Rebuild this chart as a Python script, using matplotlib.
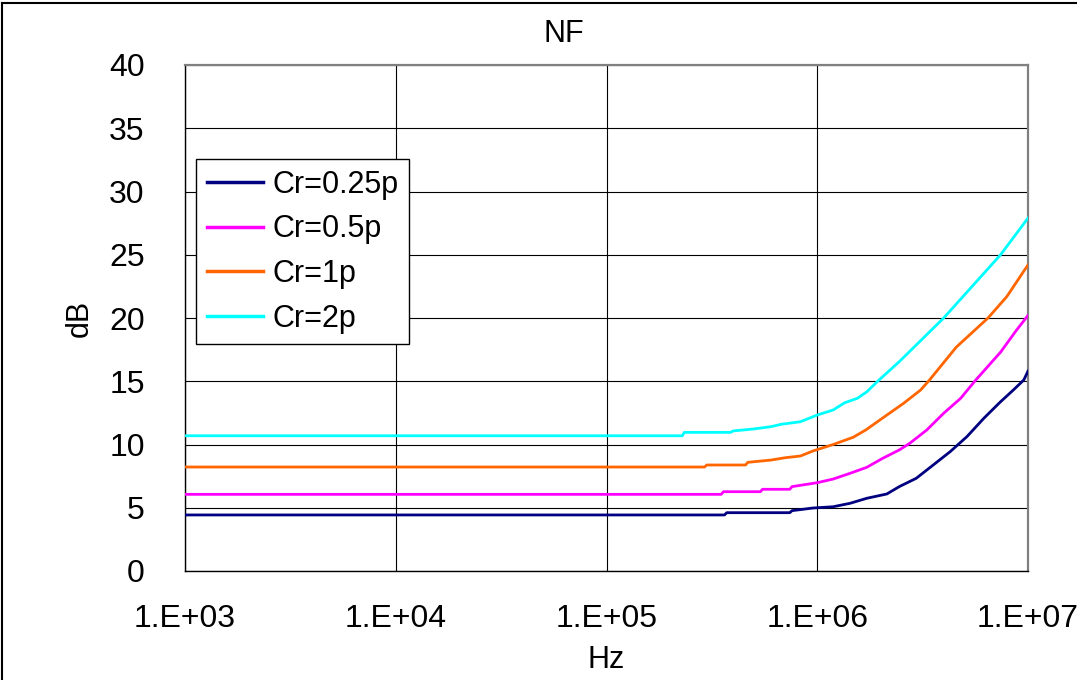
import matplotlib
matplotlib.use("Agg")
import matplotlib.pyplot as plt
from matplotlib.lines import Line2D
from matplotlib.ticker import FixedLocator, FixedFormatter, NullLocator

plt.rcParams["font.family"] = ["Liberation Sans", "DejaVu Sans"]

# Noise figure (dB) versus frequency (Hz) for four values of Cr
freq_025 = [1e3, 3.63e5, 3.72e5, 7.41e5, 7.59e5, 9.55e5, 1.19e6, 1.43e6, 1.72e6,
            2.14e6, 2.45e6, 2.95e6, 3.55e6, 4.27e6, 5.13e6, 6.17e6, 7.41e6,
            8.51e6, 9.55e6, 1e7]
nf_025 = [4.43, 4.43, 4.61, 4.61, 4.77, 4.98, 5.08, 5.35, 5.75,
          6.09, 6.67, 7.33, 8.38, 9.43, 10.62, 12.07, 13.38,
          14.3, 15.1, 15.8]

freq_05 = [1e3, 3.50e5, 3.59e5, 5.37e5, 5.50e5, 7.41e5, 7.59e5, 1.0e6, 1.19e6,
           1.43e6, 1.72e6, 2.04e6, 2.45e6, 2.75e6, 3.31e6, 3.98e6, 4.79e6,
           5.62e6, 7.41e6, 8.83e6, 1e7]
nf_05 = [6.06, 6.06, 6.27, 6.27, 6.46, 6.46, 6.67, 6.98, 7.27,
         7.72, 8.2, 8.9, 9.57, 10.1, 11.15, 12.47, 13.65,
         15.05, 17.3, 19.05, 20.2]

freq_1 = [1e3, 2.92e5, 2.99e5, 4.57e5, 4.68e5, 6.03e5, 7.08e5, 8.32e5, 9.55e5,
          1.19e6, 1.48e6, 1.70e6, 2.14e6, 2.57e6, 3.09e6, 3.39e6, 4.57e6,
          6.46e6, 7.94e6, 1e7]
nf_1 = [8.22, 8.22, 8.38, 8.38, 8.59, 8.77, 8.96, 9.09, 9.49,
        10.0, 10.57, 11.15, 12.33, 13.26, 14.3, 15.05, 17.7,
        20.0, 21.7, 24.2]

freq_2 = [1e3, 2.29e5, 2.34e5, 3.89e5, 3.98e5, 5.01e5, 6.03e5, 6.76e5, 8.32e5,
          1.0e6, 1.19e6, 1.35e6, 1.55e6, 1.72e6, 1.95e6, 2.45e6, 3.98e6,
          5.50e6, 7.41e6, 1e7]
nf_2 = [10.69, 10.69, 10.96, 10.96, 11.07, 11.23, 11.41, 11.6, 11.8,
        12.33, 12.73, 13.3, 13.65, 14.17, 15.05, 16.55, 20.0,
        22.6, 25.0, 27.9]

series_labels = ["Cr=0.25p", "Cr=0.5p", "Cr=1p", "Cr=2p"]
series_colors = ["#000080", "#FF00FF", "#FF6600", "#00FFFF"]

x_ticks = [1e3, 1e4, 1e5, 1e6, 1e7]
x_tick_labels = ["1.E+03", "1.E+04", "1.E+05", "1.E+06", "1.E+07"]
y_ticks = [0, 5, 10, 15, 20, 25, 30, 35, 40]

fig = plt.figure(figsize=(10.77, 6.8), dpi=100)
ax = fig.add_axes([185 / 1077, 1 - 571 / 680, (1028 - 185) / 1077, (571 - 65) / 680])

series = [(freq_025, nf_025), (freq_05, nf_05), (freq_1, nf_1), (freq_2, nf_2)]
for (f, v), lab, col in zip(series, series_labels, series_colors):
    ax.plot(f, v, color=col, lw=2.0, label=lab, zorder=3)

ax.set_xscale("log")
ax.set_xlim(1e3, 1e7)
ax.set_ylim(0, 40)
ax.xaxis.set_major_locator(FixedLocator(x_ticks))
ax.xaxis.set_major_formatter(FixedFormatter(x_tick_labels))
ax.xaxis.set_minor_locator(NullLocator())
ax.set_yticks(y_ticks)
ax.tick_params(axis="x", length=0, pad=24, labelsize=23)
ax.tick_params(axis="y", length=0, pad=29, labelsize=23)

ax.grid(True, which="major", color="black", lw=0.8, zorder=1)
ax.set_axisbelow(True)

for side in ("left", "bottom"):
    ax.spines[side].set_color("black")
    ax.spines[side].set_linewidth(1.0)
for side in ("top", "right"):
    ax.spines[side].set_color("#808080")
    ax.spines[side].set_linewidth(1.6)

ax.set_xlabel("Hz", fontsize=22)
ax.xaxis.set_label_coords(0.5, -0.1917)
ax.xaxis.label.set_va("baseline")
ax.set_ylabel("dB", fontsize=22)
ax.yaxis.set_label_coords(-0.125, 0.5)
ax.yaxis.label.set_va("center")

fig.text(564 / 1077, 1 - 42 / 680, "NF", ha="center", va="baseline", fontsize=22)

leg = ax.legend(loc="upper left", bbox_to_anchor=((196 - 185) / 843, 1 - (159 - 65) / 506),
                borderaxespad=0, fontsize=22, frameon=True, fancybox=False,
                edgecolor="black", framealpha=1, handlelength=1.85,
                handletextpad=0.3, labelspacing=0.48, borderpad=0.35)
leg.get_frame().set_linewidth(1.0)
for h in leg.get_lines():
    h.set_linewidth(2.5)

# Outer frame around the whole chart
fig.add_artist(Line2D([0.002, 0.002], [0, 0.995], transform=fig.transFigure, color="black", lw=1.5))
fig.add_artist(Line2D([0.002, 1.0], [0.995, 0.995], transform=fig.transFigure, color="black", lw=1.5))

fig.savefig("out.png", dpi=100)
